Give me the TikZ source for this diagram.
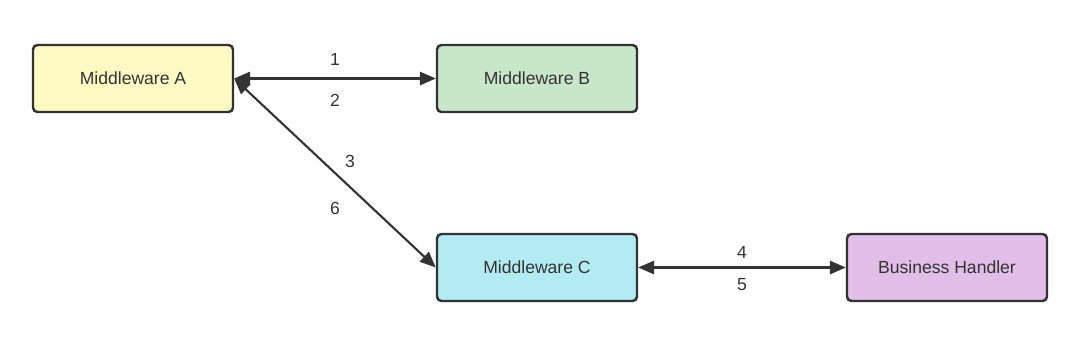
\documentclass[tikz,border=0pt]{standalone}
\usepackage{fontspec}
\setmainfont{Liberation Sans}
\usetikzlibrary{arrows.meta}
\definecolor{ink}{HTML}{333333}
\definecolor{fa}{HTML}{FFF9C4}
\definecolor{fb}{HTML}{C8E6C9}
\definecolor{fc}{HTML}{B2EBF2}
\definecolor{fd}{HTML}{E1BEE7}
\tikzset{
  box/.style={draw=ink, line width=1.4pt, rounded corners=2.5pt, minimum width=200*0.02cm, minimum height=67*0.02cm, inner sep=0pt, font=\fontsize{10}{12}\selectfont, text=ink},
  link/.style={draw=ink, line width=1.2pt, {Triangle[length=9pt,width=7.5pt]}-{Triangle[length=9pt,width=7.5pt]}},
  lbl/.style={font=\fontsize{10}{12}\selectfont, text=ink, inner sep=0pt}
}
\begin{document}
\begin{tikzpicture}[x=0.02cm,y=-0.02cm]
\useasboundingbox (0,0) rectangle (1080,343);
\node[box, fill=fa] (A) at (133,78.5) {Middleware A};
\node[box, fill=fb] (B) at (537,78.5) {Middleware B};
\node[box, fill=fc] (C) at (537,267.5) {Middleware C};
\node[box, fill=fd] (D) at (947,267.5) {Business Handler};
\draw[link] (A.east) -- (B.west);
\draw[link] (A.east) -- (C.west);
\draw[link] (C.east) -- (D.west);
\node[lbl] (l1) at (335,59) {1};
\node[lbl] (l2) at (335,100) {2};
\node[lbl] (l3) at (350,161) {3};
\node[lbl] (l6) at (335,208) {6};
\node[lbl] (l4) at (742,252) {4};
\node[lbl] (l5) at (742,285) {5};
\end{tikzpicture}
\end{document}
